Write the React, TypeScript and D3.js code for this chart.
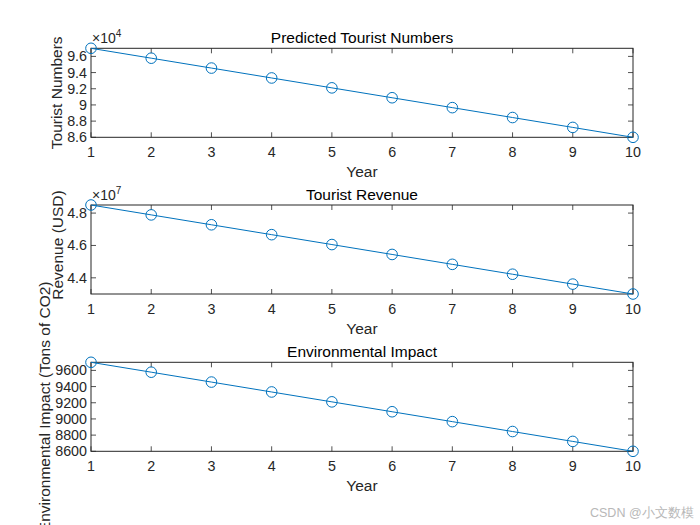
import React from "react";
import * as d3 from "d3";

const years = [1, 2, 3, 4, 5, 6, 7, 8, 9, 10];
const tourists = [97000, 95778, 94556, 93333, 92111, 90889, 89667, 88444, 87222, 86000];
const revenue = [48500000, 47889000, 47278000, 46667000, 46056000, 45444000, 44833000, 44222000, 43611000, 43000000];
const impact = [9700, 9577.8, 9455.6, 9333.3, 9211.1, 9088.9, 8966.7, 8844.4, 8722.2, 8600];

const touristTicks = [86000, 88000, 90000, 92000, 94000, 96000];
const revenueTicks = [44000000, 46000000, 48000000];
const impactTicks = [8600, 8800, 9000, 9200, 9400, 9600];

type Panel = {
  title: string;
  ylabel: string;
  values: number[];
  ticks: number[];
  domain: [number, number];
  fmt: (v: number) => string;
  exp?: string;
  top: number;
  ylabelX: number;
  ylabelY?: number;
};

const panels: Panel[] = [
  {
    title: "Predicted Tourist Numbers",
    ylabel: "Tourist Numbers",
    values: tourists,
    ticks: touristTicks,
    domain: [86000, 97000],
    fmt: (v) => String(+(v / 1e4).toFixed(1)),
    exp: "4",
    top: 48.3,
    ylabelX: 62,
  },
  {
    title: "Tourist Revenue",
    ylabel: "Revenue (USD)",
    values: revenue,
    ticks: revenueTicks,
    domain: [43000000, 48500000],
    fmt: (v) => (v / 1e7).toFixed(1),
    exp: "7",
    top: 205,
    ylabelX: 63,
    ylabelY: 245,
  },
  {
    title: "Environmental Impact",
    ylabel: "Environmental Impact (Tons of CO2)",
    values: impact,
    ticks: impactTicks,
    domain: [8600, 9700],
    fmt: (v) => String(v),
    top: 362.3,
    ylabelX: 50,
  },
];

const LEFT = 91;
const RIGHT = 633;
const H = 89;
const BLUE = "#0072BD";
const AX = "#262626";
const FONT = "Arial, 'Liberation Sans', Helvetica, sans-serif";
const TICKFS = 14.3;
const LABFS = 15.5;

function PanelView({ p }: { p: Panel }) {
  const x = d3.scaleLinear().domain([1, 10]).range([LEFT, RIGHT]);
  const y = d3.scaleLinear().domain(p.domain).range([p.top + H, p.top]);
  const bottom = p.top + H;
  const line = d3
    .line<number>()
    .x((_, i) => x(years[i]))
    .y((d) => y(d))(p.values) as string;
  const tl = 5;
  return (
    <g>
      {years.map((t) => (
        <g key={"xt" + t}>
          <line x1={x(t)} x2={x(t)} y1={bottom} y2={bottom - tl} stroke={AX} strokeWidth={0.8} />
          <line x1={x(t)} x2={x(t)} y1={p.top} y2={p.top + tl} stroke={AX} strokeWidth={0.8} />
          <text x={x(t)} y={bottom + 19.5} textAnchor="middle" fontSize={TICKFS} fill={AX}>
            {t}
          </text>
        </g>
      ))}
      {p.ticks.map((t) => (
        <g key={"yt" + t}>
          <line x1={LEFT} x2={LEFT + tl} y1={y(t)} y2={y(t)} stroke={AX} strokeWidth={0.8} />
          <line x1={RIGHT} x2={RIGHT - tl} y1={y(t)} y2={y(t)} stroke={AX} strokeWidth={0.8} />
          <text x={LEFT - 4} y={y(t) + 5} textAnchor="end" fontSize={TICKFS} fill={AX}>
            {p.fmt(t)}
          </text>
        </g>
      ))}
      <rect x={LEFT} y={p.top} width={RIGHT - LEFT} height={H} fill="none" stroke={AX} strokeWidth={1} />
      <path d={line} fill="none" stroke={BLUE} strokeWidth={1} />
      {p.values.map((v, i) => (
        <circle key={i} cx={x(years[i])} cy={y(v)} r={5.3} fill="none" stroke={BLUE} strokeWidth={1} />
      ))}
      <text x={(LEFT + RIGHT) / 2} y={p.top - 5} textAnchor="middle" fontSize={LABFS} fill="#000">
        {p.title}
      </text>
      <text x={(LEFT + RIGHT) / 2} y={bottom + 40} textAnchor="middle" fontSize={LABFS} fill={AX}>
        Year
      </text>
      <text
        transform={`translate(${p.ylabelX},${p.ylabelY ?? p.top + H / 2}) rotate(-90)`}
        textAnchor="middle"
        fontSize={LABFS}
        fill={AX}
      >
        {p.ylabel}
      </text>
      {p.exp && (
        <text x={LEFT + 1} y={p.top - 5} fontSize={14} fill={AX}>
          ×10
          <tspan dy={-6.5} fontSize={10}>
            {p.exp}
          </tspan>
        </text>
      )}
    </g>
  );
}

export default function App() {
  return (
    <svg
      width={700}
      height={525}
      style={{ position: "absolute", left: 0, top: 0, background: "#fff" }}
      fontFamily={FONT}
    >
      <rect width={700} height={525} fill="#fff" />
      {panels.map((p) => (
        <PanelView key={p.title} p={p} />
      ))}
      <text x={590} y={517} fontSize={12.5} fill="#b8b8b8">
        CSDN @小文数模
      </text>
    </svg>
  );
}
